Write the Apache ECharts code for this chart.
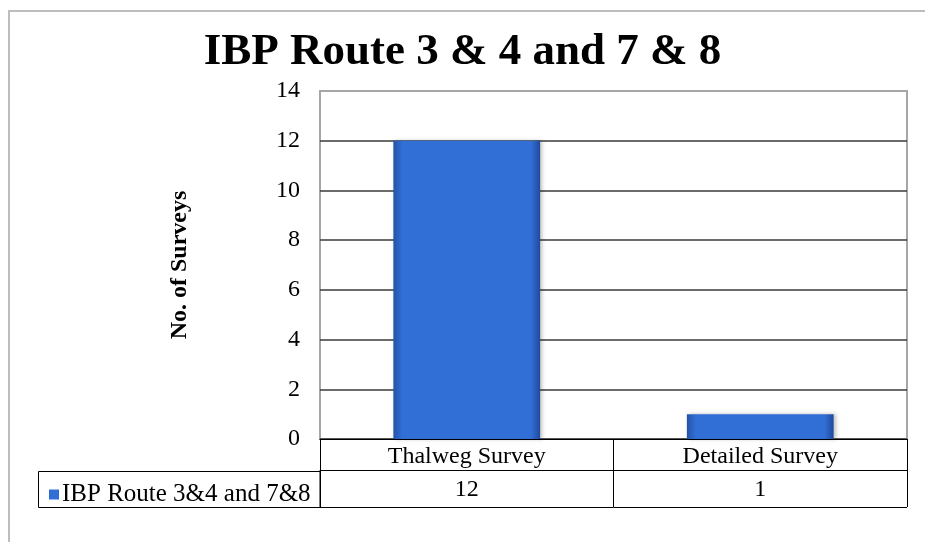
<!DOCTYPE html>
<html>
<head>
<meta charset="utf-8">
<script src="https://cdn.jsdelivr.net/npm/echarts@6/dist/echarts.min.js"></script>
<style>
  html, body { margin: 0; padding: 0; background: #fff; }
  #chart { width: 925px; height: 542px; }
</style>
</head>
<body>
<div id="chart"></div>
<script>
// data
const categories = ['Thalweg Survey', 'Detailed Survey']
const surveys = [12, 1]
const seriesName = 'IBP Route 3&4 and 7&8'

const serif = '"Liberation Serif", "Times New Roman", serif'

const chart = echarts.init(document.getElementById('chart'))

const barColor = new echarts.graphic.LinearGradient(0, 0, 1, 0, [
  { offset: 0, color: '#2453a6' },
  { offset: 0.06, color: '#316ed5' },
  { offset: 0.94, color: '#316ed5' },
  { offset: 1, color: '#21499a' }
])

chart.setOption({
  animation: false,
  title: {
    text: 'IBP Route 3 & 4 and 7 & 8',
    left: 'center',
    top: 25,
    textStyle: { fontFamily: serif, fontSize: 45, fontWeight: 'bold', color: '#000' }
  },
  legend: {
    left: 44,
    top: 477,
    icon: 'rect',
    itemWidth: 10,
    itemHeight: 10,
    itemGap: 4,
    textStyle: { fontFamily: serif, fontSize: 25, color: '#000', padding: [0, 0, 0, -2] },
    data: [seriesName]
  },
  grid: {
    left: 320,
    right: 18,
    top: 91,
    bottom: 103,
    show: true,
    borderColor: '#a6a6a6',
    borderWidth: 2
  },
  xAxis: [
    {
      type: 'category',
      data: categories,
      position: 'bottom',
      axisLine: { lineStyle: { color: '#000', width: 1 } },
      axisTick: { show: true, length: 68, lineStyle: { color: '#000' } },
      axisLabel: { fontFamily: serif, fontSize: 24, color: '#000', margin: 6 }
    },
    {
      type: 'category',
      data: categories,
      position: 'bottom',
      offset: 31,
      axisLine: { lineStyle: { color: '#000', width: 1 } },
      axisTick: { show: false },
      axisLabel: {
        fontFamily: serif, fontSize: 24, color: '#000', margin: 8,
        formatter: (v, i) => String(surveys[i])
      }
    }
  ],
  yAxis: {
    type: 'value',
    min: 0,
    max: 14,
    interval: 2,
    name: 'No. of Surveys',
    nameLocation: 'middle',
    nameRotate: 90,
    nameGap: 128,
    nameTextStyle: { fontFamily: serif, fontSize: 24, fontWeight: 'bold', color: '#000' },
    axisLine: { show: false },
    axisTick: { show: false },
    axisLabel: { fontFamily: serif, fontSize: 24, color: '#000', margin: 20 },
    splitLine: { showMaxLine: false, lineStyle: { color: '#3a3a3a', width: 1.5 } }
  },
  series: [{
    name: seriesName,
    type: 'bar',
    data: surveys,
    barWidth: '50%',
    itemStyle: {
      color: barColor,
      shadowColor: 'rgba(0,0,0,0.25)',
      shadowBlur: 4,
      shadowOffsetX: 2
    }
  }],
  graphic: [
    {
      type: 'rect',
      shape: { x: 9, y: 11, width: 960, height: 600 },
      style: { fill: 'none', stroke: '#bdbdbd', lineWidth: 2 },
      silent: true
    },
    {
      type: 'rect',
      shape: { x: 38.5, y: 471.5, width: 281.5, height: 36 },
      style: { fill: 'none', stroke: '#000', lineWidth: 1 },
      silent: true
    },
    {
      type: 'line',
      shape: { x1: 320, y1: 507.5, x2: 907, y2: 507.5 },
      style: { stroke: '#000', lineWidth: 1 },
      silent: true
    }
  ]
})
</script>
</body>
</html>
